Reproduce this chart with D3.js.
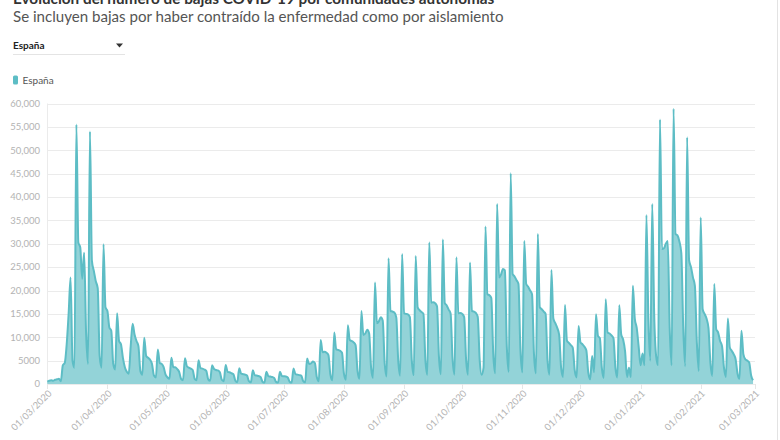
<!DOCTYPE html>
<html>
<head>
<meta charset="utf-8">
<script src="https://cdn.jsdelivr.net/npm/d3@7"></script>
<style>
  body { margin: 0; background: #fff; }
  svg { display: block; font-family: Lato, "Open Sans", sans-serif; }
</style>
</head>
<body>
<div id="chart"></div>
<script>
// bajas diarias, España, desde el 01/03/2020 (un array por mes)
const mar2020 = [500, 700, 800, 700, 900, 1000, 1100, 600, 4000, 4500, 8500, 15000, 22800, 5000, 3500,
  55500, 30300, 29200, 22500, 28100, 11000, 4300, 54000, 26400, 24200, 22000, 20500, 6000, 3500, 29900, 16400];
const abr2020 = [15600, 12100, 11400, 4300, 3100, 15150, 9200, 8500, 5600, 3600, 2600, 2200,
  8000, 12900, 10600, 9200, 8100, 2800, 2000, 9900, 6000, 5600, 5200, 4300, 1800, 1400, 7400, 4500, 4300, 3600];
const may2020 = [2000, 1400, 1100, 5600, 3600, 3600, 3200, 2600, 1100, 800, 5500, 3800, 3500, 3300, 3000, 1100, 800,
  5100, 3400, 3300, 3100, 2800, 1000, 700, 4000, 3200, 3000, 2900, 2500, 900, 600];
const jun2020 = [4070, 2600, 2500, 2300, 2100, 700, 400, 3360, 2200, 2100, 2000, 1800, 600, 350,
  2930, 1900, 1800, 1700, 1500, 500, 300, 2640, 1700, 1600, 1500, 1300, 450, 300, 2640, 1700];
const jul2020 = [1650, 1600, 1400, 500, 300, 3300, 2100, 2000, 1900, 1800, 600, 350, 5450, 4300, 4400, 4800, 4500, 1500, 600,
  9400, 6800, 6900, 6700, 6200, 2000, 800, 11000, 7400, 7300, 7100, 6700];
const ago2020 = [2200, 900, 12570, 9400, 9200, 8900, 8300, 2800, 1100, 15600, 10500, 10800, 11600, 10800, 3500, 1300,
  21700, 13000, 13400, 14300, 13600, 4500, 1600, 26900, 15600, 15500, 15300, 14200, 5000, 1800, 27800];
const sep2020 = [15100, 15000, 14900, 14300, 5000, 1900, 27400, 16400, 15800, 15400, 15000, 5200, 2000,
  30300, 17400, 17500, 17300, 16600, 5800, 2100, 30900, 17300, 16800, 15900, 15100, 5500, 2000, 27100, 15100, 15200];
const oct2020 = [15000, 14300, 5200, 2000, 26000, 15600, 15500, 15200, 14400, 5200, 2000,
  3500, 33700, 19200, 19000, 18400, 6500, 2300, 38500, 22800, 23400, 24600, 24300, 8000, 2600,
  45100, 23500, 23000, 22200, 21400, 7500];
const nov2020 = [2500, 30600, 21400, 20800, 20000, 19200, 6500, 2300, 32100, 16400, 16000, 15500, 15000, 5000, 2000,
  24400, 14000, 13000, 12000, 10500, 3500, 1500, 16900, 9300, 8800, 8300, 7800, 3000, 1400, 12400];
const dic2020 = [8900, 8500, 8000, 7200, 2500, 1000, 6000, 2500, 14900, 10300, 9800, 3500, 1300,
  18150, 11000, 10800, 10400, 9800, 3500, 1400, 16870, 10600, 9500, 7000, 1500, 3500, 1500, 21000, 14000, 12000, 8000];
const ene2021 = [4000, 6500, 4000, 36150, 14000, 5000, 38500, 15000, 6000, 4000,
  56600, 28900, 29000, 30000, 30600, 12000, 4000, 58900, 32100, 31800, 30500, 28000, 12000, 3800,
  52800, 26500, 25000, 22800, 21000, 9000, 2800];
const feb2021 = [35600, 16000, 15000, 14000, 12000, 4500, 1700, 21400, 11700, 11000, 9200, 8100, 3500, 1500,
  14000, 7800, 7100, 6400, 5300, 2200, 1100, 11400, 6400, 5300, 5000, 4600, 1800, 800];

const yTicks = [0, 5000, 10000, 15000, 20000, 25000, 30000, 35000, 40000, 45000, 50000, 55000, 60000];
const inicio = new Date(2020, 2, 1), fin = new Date(2021, 2, 1);

const valores = [].concat(mar2020, abr2020, may2020, jun2020, jul2020, ago2020,
  sep2020, oct2020, nov2020, dic2020, ene2021, feb2021);
const datos = valores.map((v, i) => ({ fecha: d3.timeDay.offset(inicio, i), valor: v }));

const W = 780, H = 440;
const colorLinea = "#5dbdc5", colorArea = "#93d3d8", gris = "#b3b3b3";

const svg = d3.select("#chart").append("svg").attr("width", W).attr("height", H);

const x = d3.scaleTime().domain([inicio, fin]).range([47.3, 755]);
const y = d3.scaleLinear().domain([0, 60000]).range([384, 103.5]);

// titulo (cortado arriba) y subtitulo
svg.append("text").attr("x", 13).attr("y", 4)
  .attr("font-size", 15.3).attr("font-weight", 700).attr("fill", "#333")
  .text("Evolución del número de bajas COVID-19 por comunidades autónomas");
svg.append("text").attr("x", 13).attr("y", 22)
  .attr("font-size", 15.1).attr("fill", "#555")
  .text("Se incluyen bajas por haber contraído la enfermedad como por aislamiento");

// selector
svg.append("text").attr("x", 13).attr("y", 48.5)
  .attr("font-size", 10).attr("font-weight", 700).attr("fill", "#222").text("España");
svg.append("path").attr("d", "M116,43.5 L123,43.5 L119.5,47.5 Z").attr("fill", "#333");
svg.append("line").attr("x1", 13).attr("x2", 125).attr("y1", 54.5).attr("y2", 54.5)
  .attr("stroke", "#e4e4e4");

// leyenda
svg.append("rect").attr("x", 13).attr("y", 75.5).attr("width", 5).attr("height", 9).attr("rx", 1.5)
  .attr("fill", colorLinea);
svg.append("text").attr("x", 22.5).attr("y", 83.5).attr("font-size", 10).attr("fill", "#555").text("España");

// rejilla y eje y
svg.append("g").selectAll("line").data(yTicks).join("line")
  .attr("x1", x.range()[0]).attr("x2", x.range()[1])
  .attr("y1", d => Math.round(y(d)) + 0.5).attr("y2", d => Math.round(y(d)) + 0.5)
  .attr("stroke", "#ebebeb");
svg.append("line").attr("x1", 47.5).attr("x2", 47.5).attr("y1", y(60000)).attr("y2", y(0))
  .attr("stroke", "#ebebeb");

const fmt = v => v >= 10000 ? d3.format(",")(v) : String(v);
svg.append("g").selectAll("text").data(yTicks).join("text")
  .attr("x", 40).attr("y", d => y(d)).attr("dy", "0.35em")
  .attr("text-anchor", "end").attr("font-size", 9.5).attr("fill", gris)
  .text(fmt);

// eje x
const meses = d3.timeMonth.range(inicio, d3.timeDay.offset(fin, 1));
const gx = svg.append("g");
gx.selectAll("line").data(meses).join("line")
  .attr("x1", d => Math.round(x(d)) + 0.5).attr("x2", d => Math.round(x(d)) + 0.5)
  .attr("y1", 384).attr("y2", 389).attr("stroke", "#e6e6e6");
gx.selectAll("text").data(meses).join("text")
  .attr("transform", d => "translate(" + (x(d) + 5) + ",394) rotate(-45)")
  .attr("text-anchor", "end").attr("font-size", 9.5).attr("fill", gris)
  .text(d3.timeFormat("%d/%m/%Y"));

// area
const area = d3.area().curve(d3.curveMonotoneX)
  .x(d => x(d.fecha)).y0(y(0)).y1(d => y(d.valor));
const linea = d3.line().curve(d3.curveMonotoneX)
  .x(d => x(d.fecha)).y(d => y(d.valor));

svg.append("path").datum(datos).attr("d", area).attr("fill", colorArea);
svg.append("path").datum(datos).attr("d", linea)
  .attr("fill", "none").attr("stroke", colorLinea).attr("stroke-width", 2).attr("stroke-linejoin", "round");

// borde derecho
svg.append("line").attr("x1", 777.5).attr("x2", 777.5).attr("y1", 0).attr("y2", H)
  .attr("stroke", "#e3e3e3");
</script>
</body>
</html>
